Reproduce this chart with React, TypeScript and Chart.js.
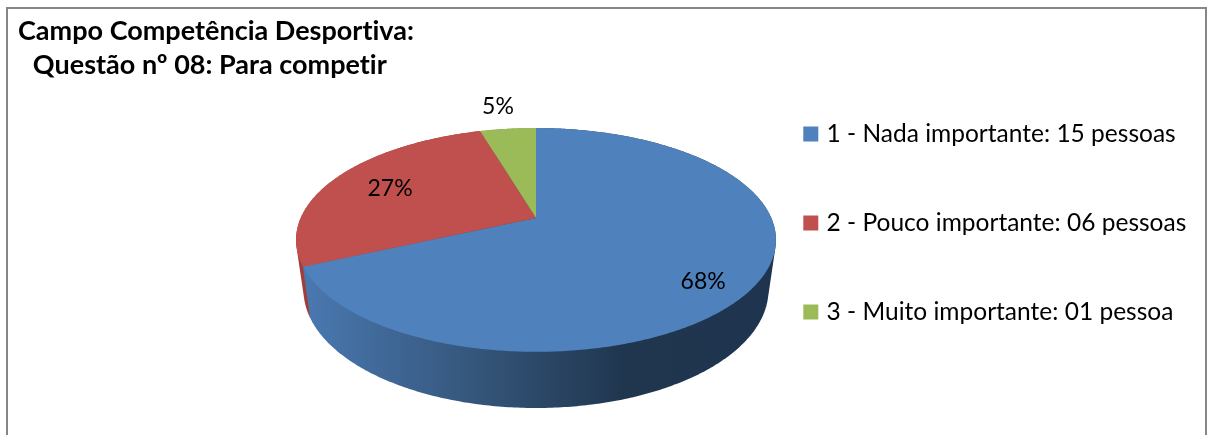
import React, { useEffect, useRef } from "react";
import { Chart, registerables } from "chart.js";

Chart.register(...registerables);

const categories = [
  "1 - Nada importante: 15 pessoas",
  "2 - Pouco importante: 06 pessoas",
  "3 - Muito importante: 01 pessoa",
];
const pessoas = [15, 6, 1];
const sliceColors = ["#4F81BD", "#C0504D", "#9BBB59"];
const titleLines = ["Campo Competência Desportiva:", "  \u200AQuestão nº 08: Para competir"];
const labelRadius = [0.775, 0.722, 1.456];
const labelShift = [14, 1, 9];

const FONT = "Lato, Carlito, Calibri, sans-serif";
const W = 1207;
const H = 435;
const CX = 536;
const K = 0.196;
const TOP_FACE = { a: 235.3, b: 107.6, y0: 218 };
const BOTTOM_FACE = { a: 228, b: 113.6, y0: 266.7 };

type Face = { a: number; b: number; y0: number };
type Pt = { x: number; y: number };

function project(f: Face, theta: number, r = 1): Pt {
  const X = Math.sin(theta) * r;
  const Y = Math.cos(theta) * r;
  const d = 1 + K * Y;
  return { x: CX + (f.a * X) / d, y: f.y0 - (f.b * Y) / d };
}

function rim(ctx: CanvasRenderingContext2D, f: Face, from: number, to: number) {
  const n = Math.max(8, Math.ceil(Math.abs(to - from) * 90));
  for (let i = 0; i <= n; i++) {
    const p = project(f, from + ((to - from) * i) / n);
    ctx.lineTo(p.x, p.y);
  }
}

function hull(points: Pt[]): Pt[] {
  const pts = [...points].sort((a, b) => a.x - b.x || a.y - b.y);
  const cross = (o: Pt, a: Pt, b: Pt) => (a.x - o.x) * (b.y - o.y) - (a.y - o.y) * (b.x - o.x);
  const build = (list: Pt[]) => {
    const out: Pt[] = [];
    for (const p of list) {
      while (out.length >= 2 && cross(out[out.length - 2], out[out.length - 1], p) <= 0) out.pop();
      out.push(p);
    }
    out.pop();
    return out;
  };
  return [...build(pts), ...build([...pts].reverse())];
}

const perspectivePie = {
  id: "perspectivePie",
  beforeInit(chart: any) {
    // keeps Lato's "ti" ligature out of the text
    chart.ctx.letterSpacing = "0.01px";
  },
  beforeDraw(chart: any) {
    const { ctx } = chart;
    ctx.letterSpacing = "0.01px";
    ctx.save();
    ctx.fillStyle = "#ffffff";
    ctx.fillRect(0, 0, W, H);
    ctx.strokeStyle = "#868686";
    ctx.lineWidth = 2;
    ctx.beginPath();
    ctx.moveTo(7, H);
    ctx.lineTo(7, 8);
    ctx.lineTo(W - 1, 8);
    ctx.lineTo(W - 1, H);
    ctx.stroke();
    ctx.restore();
  },
  beforeDatasetsDraw(chart: any) {
    const { ctx } = chart;
    const arcs = chart.getDatasetMeta(0).data;
    const spans = arcs.map((a: any) => ({
      from: a.startAngle + Math.PI / 2,
      to: a.endAngle + Math.PI / 2,
    }));
    ctx.save();

    // sides: the outline swept between the two rims, under the top faces
    const blueGrad = ctx.createLinearGradient(300, 0, 775, 0);
    blueGrad.addColorStop(0, "#4A79B2");
    blueGrad.addColorStop(0.38, "#345579");
    blueGrad.addColorStop(0.68, "#20364F");
    blueGrad.addColorStop(1, "#1F344E");
    const sideFill = ["", "#A03E3C", "#7F9A48"];
    [2, 1, 0].forEach((i) => {
      const s = spans[i];
      const n = Math.ceil((s.to - s.from) * 90);
      const pts: Pt[] = [];
      for (let j = 0; j <= n; j++) {
        const t = s.from + ((s.to - s.from) * j) / n;
        pts.push(project(TOP_FACE, t), project(BOTTOM_FACE, t));
      }
      const outline = hull(pts);
      ctx.beginPath();
      outline.forEach((p, idx) => (idx ? ctx.lineTo(p.x, p.y) : ctx.moveTo(p.x, p.y)));
      ctx.closePath();
      ctx.fillStyle = i === 0 ? blueGrad : sideFill[i];
      ctx.fill();
    });

    // top faces
    spans.forEach((s: any, i: number) => {
      ctx.beginPath();
      ctx.moveTo(CX, TOP_FACE.y0);
      rim(ctx, TOP_FACE, s.from, s.to);
      ctx.closePath();
      ctx.fillStyle = sliceColors[i];
      ctx.fill();
    });

    // percentage labels
    const total = pessoas.reduce((a, b) => a + b, 0);
    ctx.fillStyle = "#000000";
    ctx.font = `23px ${FONT}`;
    ctx.textAlign = "center";
    ctx.textBaseline = "middle";
    spans.forEach((s: any, i: number) => {
      const p = project(TOP_FACE, (s.from + s.to) / 2, labelRadius[i]);
      ctx.fillText(`${Math.round((pessoas[i] / total) * 100)}%`, p.x, p.y + labelShift[i]);
    });
    ctx.restore();
    return false;
  },
};

export default function App() {
  const ref = useRef<HTMLCanvasElement>(null);
  useEffect(() => {
    const chart = new Chart(ref.current!, {
      type: "pie",
      data: {
        labels: categories,
        datasets: [
          {
            data: pessoas,
            backgroundColor: sliceColors,
            borderColor: sliceColors,
            borderWidth: 8,
          },
        ],
      },
      options: {
        animation: false,
        responsive: false,
        layout: { padding: { left: 18, right: 11, top: 0, bottom: -11 } },
        plugins: {
          tooltip: { enabled: false },
          title: {
            display: true,
            text: titleLines,
            align: "start",
            color: "#000000",
            font: { family: FONT, size: 27, weight: "bold", lineHeight: 1.26 },
            padding: { top: 14, bottom: 10 },
          },
          legend: {
            display: true,
            position: "right",
            maxWidth: 600,
            maxHeight: 500,
            labels: {
              color: "#000000",
              font: { family: FONT, size: 24.5 },
              boxWidth: 7,
              boxHeight: 7,
              padding: 64.5,
            },
          },
        },
      },
      plugins: [perspectivePie],
    } as any);
    return () => chart.destroy();
  }, []);
  return (
    <div style={{ position: "fixed", left: 0, top: 0, width: W, height: H }}>
      <canvas ref={ref} width={W} height={H} style={{ display: "block" }} />
    </div>
  );
}
